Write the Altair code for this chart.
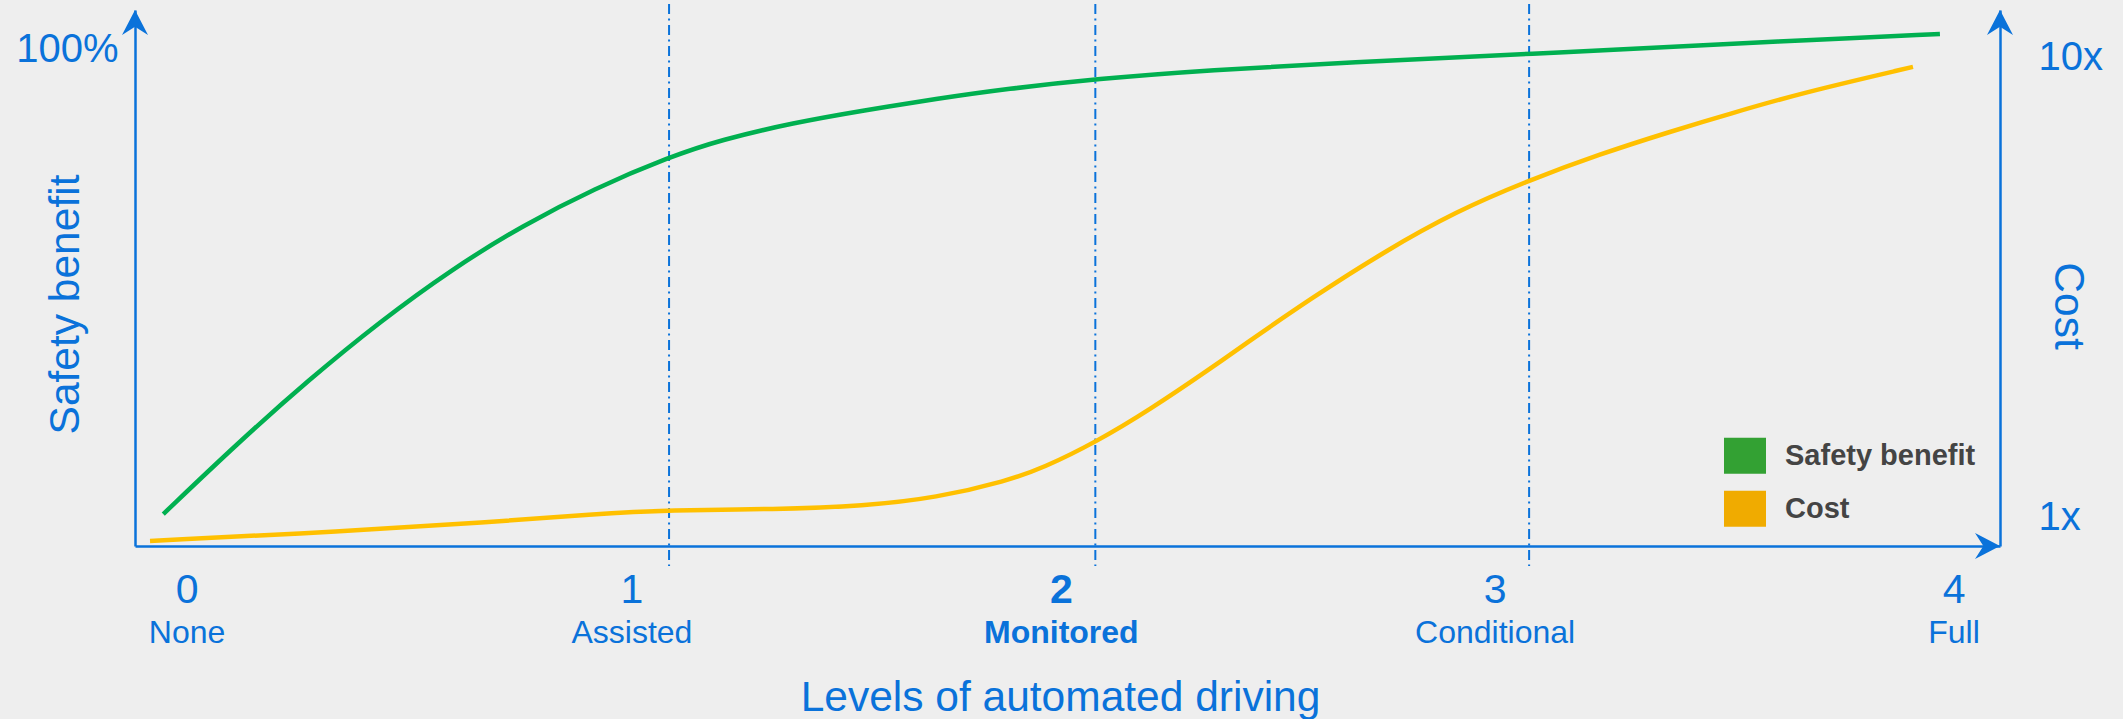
import altair as alt
import pandas as pd

# ---------------- data ----------------
# x in "level" units, safety in %, cost as a multiple (log axis)
safety_x = [-0.054, 0.113, 0.276, 0.437, 0.598, 0.761, 0.921, 1.093, 1.209, 1.372,
            1.533, 1.696, 1.856, 2.058, 2.316, 2.630, 3.038, 3.493, 3.651, 3.968]
safety_y = [6.4, 20.5, 33.35, 45.0, 55.4, 64.3, 71.6, 78.0, 81.4, 84.8,
            87.3, 89.6, 91.6, 93.6, 95.4, 96.9, 98.6, 100.6, 101.3, 102.6]

cost_x = [-0.084, 0.355, 0.679, 0.921, 1.093, 1.331, 1.533, 1.696, 1.856, 1.938,
          2.058, 2.180, 2.316, 2.386, 2.549, 2.710, 2.873, 3.038, 3.196, 3.357,
          3.493, 3.651, 3.907]
cost_y = [0.878, 0.921, 0.963, 1.005, 1.025, 1.028, 1.046, 1.089, 1.186, 1.265,
          1.441, 1.695, 2.078, 2.321, 2.977, 3.736, 4.571, 5.339, 6.076, 6.808,
          7.451, 8.249, 9.417]

level_nums = ["0", "1", "2", "3", "4"]
level_names = ["None", "Assisted", "Monitored", "Conditional", "Full"]
level_pos = [0.0, 1.007, 1.979, 2.961, 4.0]
highlight_level = "2"

boundaries = [1.091, 2.056, 3.038]
guide_top = 108.6
guide_bottom = -4.0

legend_labels = ["Safety benefit", "Cost"]

X_DOMAIN = [-0.118, 4.104]
Y_DOMAIN = [0, 107.4]
COST_DOMAIN = [0.856, 12.52]

# ---------------- styling ----------------
BLUE = "#0A72DA"
GREEN_LINE = "#00B050"
YELLOW_LINE = "#FFC000"
LEGEND_COLORS = ["#33A133", "#F0AB00"]
FONT = "Liberation Sans"
W, H = 1865, 536

UP = "M0,0 L1,1.92 L0,1.28 L-1,1.92 Z"
RIGHT = "M0,0 L-1.92,-1 L-1.28,0 L-1.92,1 Z"

x_axis = alt.Axis(title="Levels of automated driving", labels=False, ticks=False, tickSize=0,
                  grid=False, domainColor=BLUE, domainWidth=2.5, titleFont=FONT,
                  titleFontSize=42.5, titleFontWeight="normal", titleColor=BLUE,
                  titleX=925, titleY=164.5, titleBaseline="alphabetic", titleAlign="center")
y_axis = alt.Axis(title="Safety benefit", values=[100], labelExpr="datum.value + '%'",
                  ticks=False, tickSize=0, grid=False, domainColor=BLUE, domainWidth=2.5,
                  labelFont=FONT, labelFontSize=40, labelColor=BLUE, labelPadding=17,
                  labelOffset=3,
                  titleFont=FONT, titleFontSize=42.5, titleFontWeight="normal", titleColor=BLUE,
                  titleX=-70, titleY=294, titleAngle=270, titleBaseline="middle",
                  titleAlign="center")
cost_axis = alt.Axis(orient="right", title="Cost", values=[1, 10],
                     labelExpr="datum.value + 'x'", ticks=False, tickSize=0, grid=False,
                     domainColor=BLUE, domainWidth=2.5, labelFont=FONT, labelFontSize=40,
                     labelColor=BLUE, labelPadding=38, labelOffset=3, titleFont=FONT,
                     titleFontSize=42.5,
                     titleFontWeight="normal", titleColor=BLUE, titleX=67, titleY=295.5,
                     titleAngle=90, titleBaseline="middle", titleAlign="center")


def xenc(field):
    return alt.X(f"{field}:Q", scale=alt.Scale(domain=X_DOMAIN, nice=False, zero=False),
                 axis=x_axis)


def yenc(field):
    return alt.Y(f"{field}:Q", scale=alt.Scale(domain=Y_DOMAIN, nice=False, zero=False),
                 axis=y_axis)


safety_df = pd.DataFrame({"level": safety_x, "safety": safety_y})
cost_df = pd.DataFrame({"level": cost_x, "cost": cost_y})
levels_df = pd.DataFrame({"pos": level_pos, "num": level_nums, "name": level_names})
bound_df = pd.DataFrame({"level": boundaries, "top": [guide_top] * len(boundaries),
                         "bottom": [guide_bottom] * len(boundaries)})
arrow_df = pd.DataFrame({"x": [X_DOMAIN[0], X_DOMAIN[1], X_DOMAIN[1]],
                         "y": [Y_DOMAIN[1], Y_DOMAIN[1], Y_DOMAIN[0]],
                         "dir": ["up", "up", "right"]})
legend_df = pd.DataFrame({"series": legend_labels})

rules = alt.Chart(bound_df).mark_rule(color=BLUE, strokeWidth=2, strokeDash=[10, 4.5, 2, 4.5],
                                      clip=False).encode(
    x=xenc("level"), y=yenc("top"), y2="bottom:Q")

green = alt.Chart(safety_df).mark_line(color=GREEN_LINE, strokeWidth=4.5,
                                       interpolate="basis").encode(
    x=xenc("level"), y=yenc("safety"))

arrows = alt.Chart(arrow_df).mark_point(filled=True, size=676, opacity=1, strokeWidth=0,
                                        color=BLUE).encode(
    x=xenc("x"), y=yenc("y"),
    shape=alt.Shape("dir:N", scale=alt.Scale(domain=["up", "right"], range=[UP, RIGHT]),
                    legend=None))


def label_layer(field, size, ypix, weight, test):
    return alt.Chart(levels_df).mark_text(
        font=FONT, fontSize=size, color=BLUE, baseline="alphabetic", align="center",
        fontWeight=weight).encode(
        x=xenc("pos"), y=alt.value(ypix), text=f"{field}:N").transform_filter(test)


is_hi = f"datum.num == '{highlight_level}'"
not_hi = f"datum.num != '{highlight_level}'"
nums_n = label_layer("num", 41, 593, "normal", not_hi)
nums_b = label_layer("num", 41, 593, "bold", is_hi)
names_n = label_layer("name", 32, 633, "normal", not_hi)
names_b = label_layer("name", 32, 633, "bold", is_hi)

legend_layer = alt.Chart(legend_df).mark_square(filled=True, opacity=1).encode(
    color=alt.Color("series:N", scale=alt.Scale(domain=legend_labels, range=LEGEND_COLORS),
                    legend=alt.Legend(title=None, orient="none", legendX=1589, legendY=424.7,
                                      symbolType="M-1,-0.857 H1 V0.857 H-1 Z",
                                      symbolSize=1764, symbolStrokeWidth=0,
                                      symbolOpacity=1, labelFont=FONT, labelFontSize=29,
                                      labelFontWeight="bold", labelColor="#444444",
                                      labelOffset=19, labelLimit=600, rowPadding=14,
                                      padding=0, direction="vertical"))
).transform_filter("false")

left = alt.layer(rules, green, arrows, nums_n, nums_b, names_n, names_b, legend_layer)

yellow = alt.Chart(cost_df).mark_line(color=YELLOW_LINE, strokeWidth=4.5,
                                      interpolate="basis").encode(
    x=xenc("level"),
    y=alt.Y("cost:Q", scale=alt.Scale(type="log", domain=COST_DOMAIN, nice=False),
            axis=cost_axis))

chart = alt.layer(left, yellow).resolve_scale(y="independent").properties(
    width=W, height=H,
    padding={"left": 135, "top": 10, "right": 123, "bottom": 173},
    autosize=alt.AutoSizeParams(type="none"),
    background="#EEEEEE",
).configure_view(stroke=None)

chart.save("out.html", embed_options={"renderer": "svg", "actions": False})
